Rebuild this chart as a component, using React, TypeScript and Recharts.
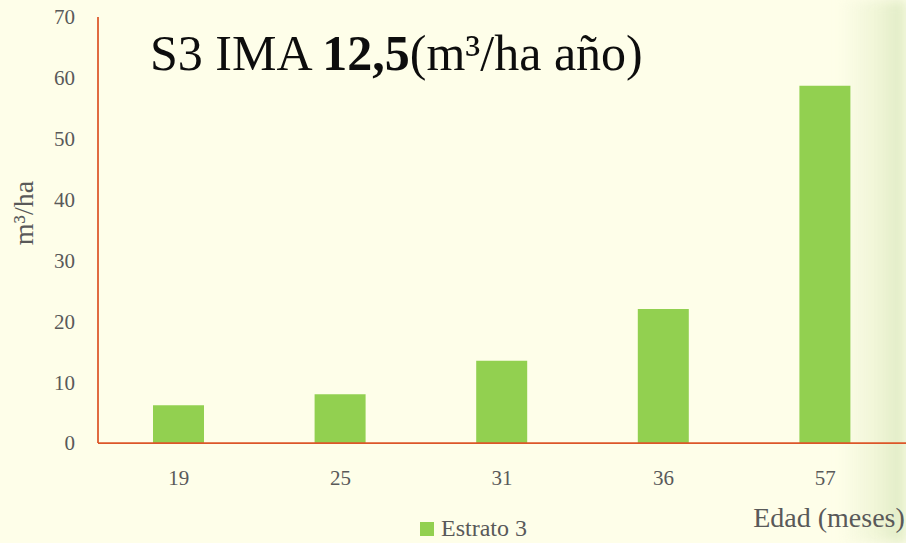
import React from "react";
import { BarChart, Bar, XAxis, YAxis, Legend, Label } from "recharts";

const ages = ["19", "25", "31", "36", "57"];
const volumes = [6.2, 8.0, 13.5, 22.0, 58.7];
const yTicks = [0, 10, 20, 30, 40, 50, 60, 70];
const seriesName = "Estrato 3";

const data = ages.map((edad, i) => ({ edad, volumen: volumes[i] }));

const FONT = '"Liberation Serif", "DejaVu Serif", serif';
const AXIS = "#dc5629";
const GREEN = "#92d050";
const GREY = "#595959";

// eslint-disable-next-line @typescript-eslint/no-explicit-any
function LegendBox({ payload }: any) {
  return (
    <div style={{ display: "flex", alignItems: "center", fontFamily: FONT, fontSize: 24, color: GREY }}>
      {(payload ?? []).map((p: any) => (
        <span key={p.value} style={{ display: "flex", alignItems: "center" }}>
          <span style={{ width: 14, height: 14, background: p.color, marginRight: 7, display: "inline-block" }} />
          {p.value}
        </span>
      ))}
    </div>
  );
}

export default function App() {
  return (
    <div
      style={{
        position: "absolute",
        left: 0,
        top: 0,
        width: 906,
        height: 543,
        overflow: "hidden",
        background: "#fefee9",
      }}
    >
      {/* soft green haze along the right edge */}
      <div
        style={{
          position: "absolute",
          left: 840,
          top: 0,
          width: 66,
          height: 543,
          background:
            "linear-gradient(90deg, rgba(254,254,233,0) 0%, rgba(232,240,205,0.7) 60%, rgba(218,232,190,0.9) 100%)",
          filter: "blur(6px)",
        }}
      />
      <BarChart
        width={906}
        height={543}
        data={data}
        margin={{ top: 17, right: 0, bottom: 0, left: 0 }}
        barSize={51}
        style={{ position: "absolute", left: 0, top: 0 }}
      >
        <XAxis
          dataKey="edad"
          height={100}
          interval={0}
          tickLine={false}
          tickMargin={21}
          axisLine={{ stroke: AXIS, strokeWidth: 1.75 }}
          tick={{ fill: GREY, fontSize: 21, fontFamily: FONT }}
        >
          <Label
            content={() => (
              <text x={829} y={527} textAnchor="middle" fill={GREY} fontSize={28} fontFamily={FONT}>
                Edad (meses)
              </text>
            )}
          />
        </XAxis>
        <YAxis
          width={98}
          domain={[0, 70]}
          ticks={yTicks}
          tickLine={false}
          tickMargin={17}
          axisLine={{ stroke: AXIS, strokeWidth: 1.75 }}
          tick={{ fill: GREY, fontSize: 21, fontFamily: FONT }}
        >
          <Label
            content={() => (
              <text
                x={33}
                y={213}
                textAnchor="middle"
                fill={GREY}
                fontSize={28}
                fontFamily={FONT}
                transform="rotate(-90 33 213)"
              >
                m³/ha
              </text>
            )}
          />
        </YAxis>
        <Legend
          layout="horizontal"
          verticalAlign="middle"
          align="center"
          content={<LegendBox />}
          wrapperStyle={{ left: 420, top: 515, width: "auto" }}
        />
        <Bar dataKey="volumen" name={seriesName} fill={GREEN} isAnimationActive={false} />
      </BarChart>
      <div
        style={{
          position: "absolute",
          left: 150,
          top: 28,
          fontFamily: FONT,
          fontSize: 50,
          lineHeight: "50px",
          color: "#0d0d0d",
          whiteSpace: "nowrap",
        }}
      >
        S3 IMA <b>12,5</b>(m³/ha año)
      </div>
    </div>
  );
}
